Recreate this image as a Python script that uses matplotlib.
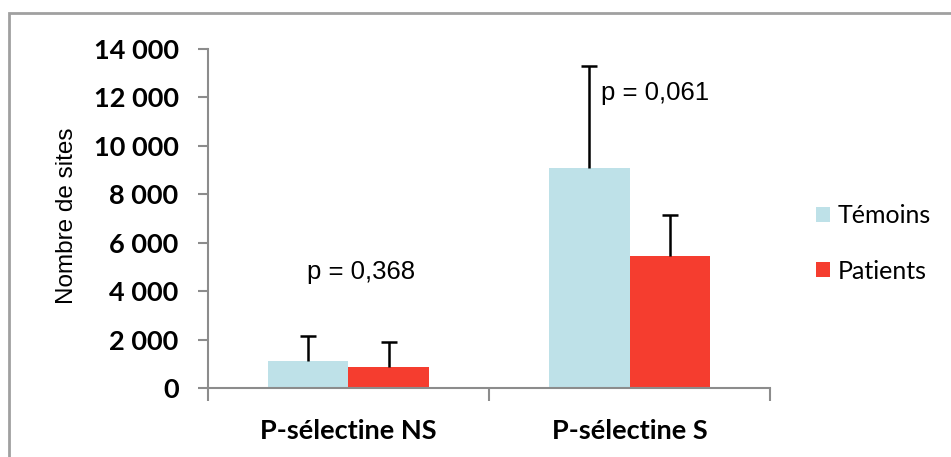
import matplotlib.pyplot as plt
from matplotlib.patches import Rectangle
from matplotlib.ticker import FuncFormatter, FixedLocator
import numpy as np

categories = ["P-sélectine NS", "P-sélectine S"]
series = ["Témoins", "Patients"]
temoins = [1100, 9100]
patients = [850, 5450]
temoins_err = [1050, 4200]
patients_err = [1050, 1700]
p_values = ["p = 0,368", "p = 0,061"]
colors = ["#bee1e8", "#f53d2f"]

fig = plt.figure(figsize=(9.51, 4.57), dpi=100)
ax = fig.add_axes([0.2187, 0.151, 0.591, 0.742])

x = np.arange(len(categories))
w = 0.285
for off, vals, errs, col, name in [(-w / 2, temoins, temoins_err, colors[0], series[0]),
                                   (w / 2, patients, patients_err, colors[1], series[1])]:
    ax.bar(x + off, vals, w, color=col, label=name, zorder=2)
    eb = ax.errorbar(x + off, vals, yerr=[np.zeros(len(vals)), errs], fmt="none",
                     ecolor="black", elinewidth=1.8, capsize=6, capthick=1.8, zorder=3)
    eb.lines[1][0].set_visible(False)  # only the upper cap

# p-value labels
ax.text(0.043, 4800, p_values[0], ha="center", va="center", fontsize=18.5, family="Liberation Sans")
ax.text(1.09, 12190, p_values[1], ha="center", va="center", fontsize=18.5, family="Liberation Sans")

ax.set_xlim(-0.5, 1.5)
ax.set_ylim(0, 14000)
ax.set_yticks(np.arange(0, 14001, 2000))
ax.yaxis.set_major_formatter(FuncFormatter(lambda v, p: f"{int(v):,}".replace(",", " ")))
ax.tick_params(axis="y", labelsize=19.5, length=7.2, width=1.5, color="#8c8c8c", pad=14)

ax.set_xticks(x)
ax.set_xticklabels(categories, fontsize=19.5, fontweight="bold")
ax.tick_params(axis="x", which="major", length=0, pad=22)
ax.xaxis.set_minor_locator(FixedLocator([-0.5, 0.5, 1.5]))
ax.tick_params(axis="x", which="minor", length=9, width=1.5, color="#8c8c8c")
for lab in ax.get_yticklabels() + ax.get_xticklabels():
    lab.set_family("Lato")
    lab.set_fontweight("bold")

for s in ["top", "right"]:
    ax.spines[s].set_visible(False)
for s in ["left", "bottom"]:
    ax.spines[s].set_color("#8c8c8c")
    ax.spines[s].set_linewidth(1.5)

ax.set_ylabel("Nombre de sites", fontsize=17.5, family="Liberation Sans")
ax.yaxis.set_label_coords(-0.231, 0.507)

leg = fig.legend(loc="upper left", bbox_to_anchor=(816 / 951, 1 - 204 / 457), frameon=False,
                 prop={"family": "Lato", "size": 18}, handlelength=0.55, handleheight=0.55,
                 handletextpad=0.3, labelspacing=1.31, borderaxespad=0, borderpad=0)

fig.patches.append(Rectangle((9 / 951, -0.2), 1.2, 1.2 - 13 / 457, transform=fig.transFigure,
                             fill=False, edgecolor="#a0a0a0", linewidth=2))

fig.savefig("out.png", dpi=100)
